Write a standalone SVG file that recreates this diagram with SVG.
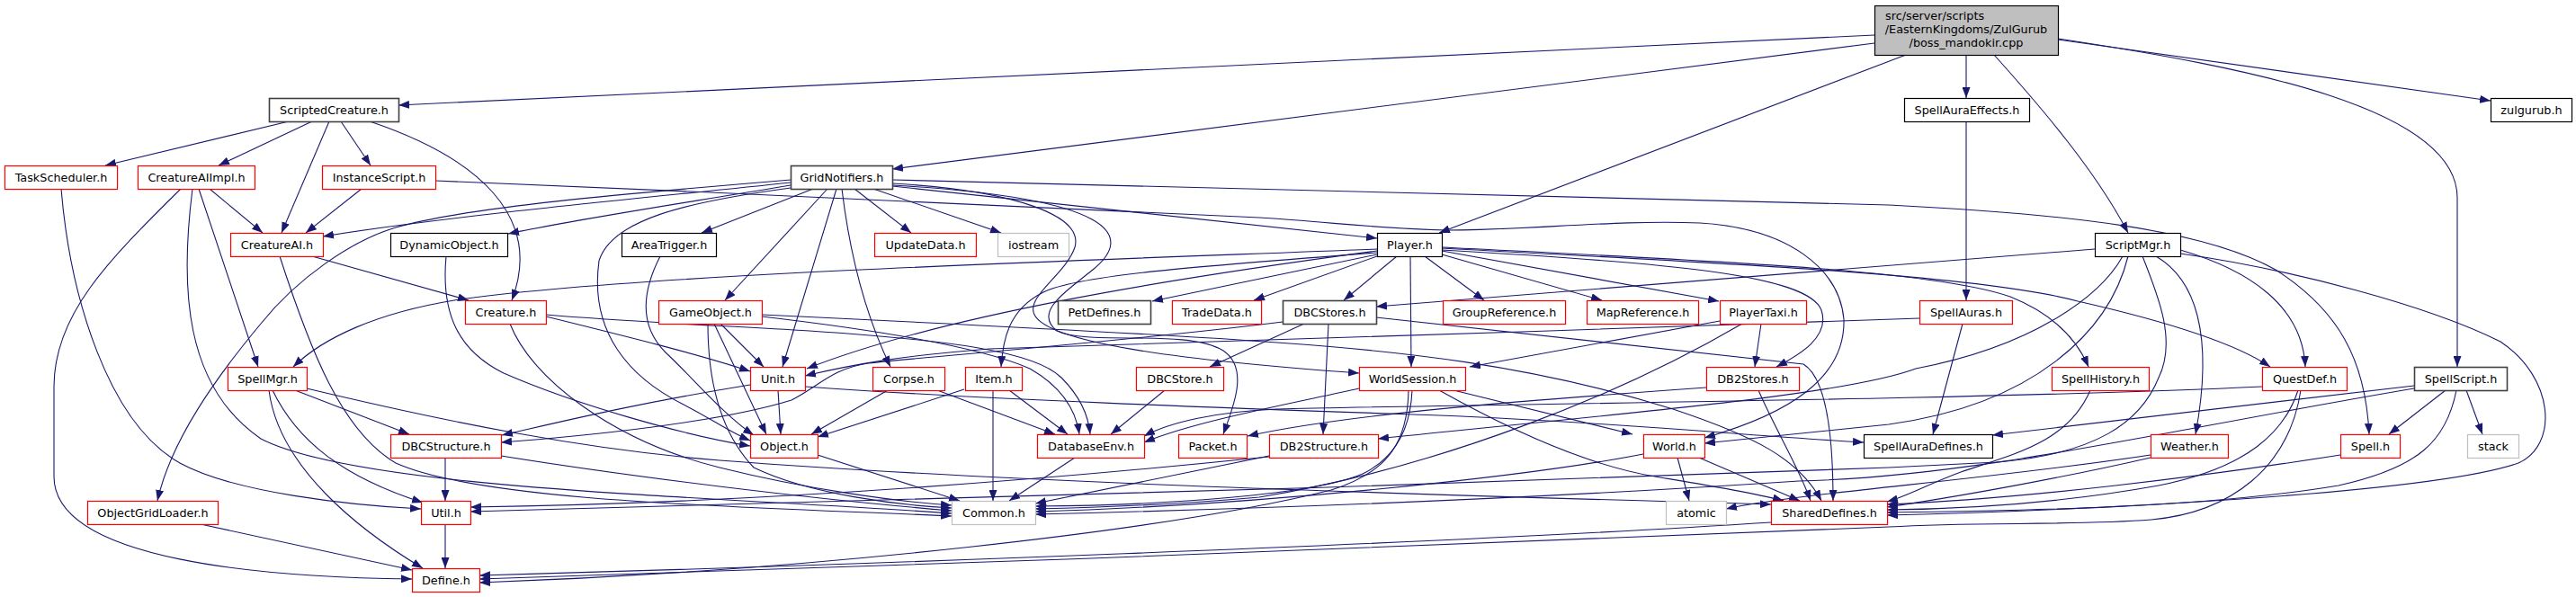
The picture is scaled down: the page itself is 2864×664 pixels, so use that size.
<svg xmlns="http://www.w3.org/2000/svg" width="2864" height="664" viewBox="0 0 2864 664">
<defs>
<marker id="ah" markerUnits="userSpaceOnUse" markerWidth="12" markerHeight="9" refX="12" refY="4.5" orient="auto" viewBox="0 0 12 9"><path d="M0,0L12,4.5L0,9z" fill="#191970"/></marker>
<style>
.e path{fill:none;stroke:#191970;stroke-width:1.1;marker-end:url(#ah)}
rect{fill:#fff;stroke-width:1.2}
.r{stroke:#ff0000}
.k{stroke:#000}
.d{stroke:#404040;stroke-width:1.6}
.g{stroke:#bfbfbf}
.t{fill:#bfbfbf;stroke:#000}
text{font-family:"DejaVu Sans","Liberation Sans",sans-serif;font-size:12.8px;text-anchor:middle;fill:#000}
</style>
</defs>
<rect x="0" y="0" width="2864" height="664" style="fill:#fff;stroke:none"/>
<g id="edges" class="e">
<path d="M2084,39 L443,117"/>
<path d="M2084,48 L992,188"/>
<path d="M2119,61 L1600,259"/>
<path d="M2186,61 L2186,109"/>
<path d="M2217,61 C2270,120 2330,190 2366,259"/>
<path d="M2288,44 L2769,112"/>
<path d="M2288,43 C2500,75 2732,120 2732,220 L2732,408"/>
<path d="M321,135 L117,184"/>
<path d="M347,135 L243,184"/>
<path d="M366,135 L313,259"/>
<path d="M379,135 L412,184"/>
<path d="M411,135 C530,175 605,240 569,334"/>
<path d="M68,210 C78,330 120,470 200,515 C260,548 390,562 468,566"/>
<path d="M233,210 L292,259"/>
<path d="M221,210 L287,408"/>
<path d="M201,210 C120,290 60,350 60,430 L60,530 C60,625 300,642 458,644"/>
<path d="M214,210 C200,320 205,430 290,488 C400,545 800,552 1058,571"/>
<path d="M347,285 L521,334"/>
<path d="M311,285 C345,390 380,480 440,515 C540,560 850,564 1058,574"/>
<path d="M402,210 L340,259"/>
<path d="M484,201 C800,214 1200,232 1400,242 C1480,247 1540,255 1610,256 C1700,256 1800,244 1890,248 C1990,254 2045,300 2050,355 C2052,420 1990,460 1895,487"/>
<path d="M879,203 C700,222 500,240 359,263"/>
<path d="M879,206 C760,226 650,242 565,260"/>
<path d="M879,200 C700,215 520,230 440,253 C390,268 330,310 290,360 C240,420 190,490 175,557"/>
<path d="M904,210 L780,259"/>
<path d="M920,210 L806,334"/>
<path d="M930,210 L870,408"/>
<path d="M936,210 C945,285 962,350 990,408"/>
<path d="M950,210 L1013,259"/>
<path d="M971,210 L1113,259"/>
<path d="M992,207 L1531,265"/>
<path d="M992,200 L2100,228 C2300,238 2450,255 2530,300 C2600,345 2630,400 2634,483"/>
<path d="M879,209 C760,225 680,245 666,290 C655,370 700,420 760,450 C790,465 810,480 834,490"/>
<path d="M496,285 C490,350 510,390 560,415 C640,450 760,484 834,496"/>
<path d="M734,285 C716,320 708,360 740,392 C770,420 805,462 838,484"/>
<path d="M992,204 C1130,212 1205,240 1195,275 C1185,305 1140,330 1150,350 C1165,380 1300,400 1511,415"/>
<path d="M992,206 C1240,220 1262,262 1215,300 C1180,328 1150,348 1175,368 C1210,385 1320,365 1360,390 C1390,410 1370,455 1360,483"/>
<path d="M1553,285 L1494,334"/>
<path d="M1568,285 L1569,408"/>
<path d="M1584,285 L1650,334"/>
<path d="M1603,283 L1781,334"/>
<path d="M1603,279 L1911,335"/>
<path d="M1603,278 C1850,292 2010,305 2025,345 C2035,375 2000,395 1975,408"/>
<path d="M1603,275 C1900,290 2150,300 2235,330 C2285,350 2310,380 2322,408"/>
<path d="M1603,276 C1900,292 2200,305 2310,335 C2420,360 2490,385 2524,408"/>
<path d="M1531,277 C1200,290 700,305 505,334 C420,348 360,375 326,408"/>
<path d="M1531,279 C1300,310 1050,350 897,410"/>
<path d="M1531,281 C1350,295 1200,305 1160,325 C1120,345 1115,380 1113,408"/>
<path d="M1531,283 C1450,300 1350,320 1281,335"/>
<path d="M1531,285 L1394,334"/>
<path d="M2329,277 L1530,341"/>
<path d="M2360,285 C2335,330 2260,385 2130,410 C2050,440 1800,460 1532,488"/>
<path d="M2366,285 C2345,370 2260,450 2100,472 L1895,493"/>
<path d="M2397,285 C2440,310 2462,370 2441,483"/>
<path d="M2424,278 C2500,300 2560,340 2563,408"/>
<path d="M2424,282 C2550,300 2700,340 2780,380 C2840,420 2845,495 2800,515 C2700,550 2300,568 2098,573"/>
<path d="M2382,285 C2400,330 2420,380 2400,420 C2380,470 2330,505 2220,514 L2100,520 C1600,540 900,560 523,569"/>
<path d="M2684,429 L2215,484"/>
<path d="M2719,434 L2656,483"/>
<path d="M2742,434 L2760,483"/>
<path d="M2731,434 C2720,490 2690,520 2600,540 C2450,565 2250,568 2098,570"/>
<path d="M2684,432 C2400,480 2200,530 2000,535 C1700,555 1400,566 1151,572"/>
<path d="M607,352 C700,375 780,395 834,413"/>
<path d="M607,350 C700,358 800,362 900,368 C1050,378 1150,390 1180,420 C1200,440 1210,460 1212,483"/>
<path d="M567,360 C590,420 680,490 800,520 C900,545 1000,558 1058,562"/>
<path d="M787,360 C787,420 800,480 838,520 C900,550 1000,562 1058,565"/>
<path d="M794,360 L852,483"/>
<path d="M801,360 L849,408"/>
<path d="M847,352 C1000,370 1100,390 1145,410 C1180,430 1196,455 1200,483"/>
<path d="M847,350 C1100,362 1300,372 1420,381 C1550,390 1700,405 1860,455 C1950,485 2000,510 2025,557"/>
<path d="M865,434 L868,483"/>
<path d="M834,428 C700,450 620,470 558,484"/>
<path d="M895,430 C1100,445 1400,455 1600,462 C1800,470 1950,485 2072,492"/>
<path d="M987,434 L902,483"/>
<path d="M1042,434 L1173,483"/>
<path d="M1072,433 L909,486"/>
<path d="M1122,434 L1187,483"/>
<path d="M1104,434 L1104,557"/>
<path d="M1295,434 L1235,483"/>
<path d="M1450,360 L1345,408"/>
<path d="M1477,360 L1471,483"/>
<path d="M1530,353 L2005,405 C2030,420 2038,480 2038,557"/>
<path d="M1426,358 C1250,380 1050,395 965,404 C925,410 910,430 880,445 C800,470 650,485 557,492"/>
<path d="M2134,354 C1800,366 1400,378 1100,388 C1000,396 950,405 895,418"/>
<path d="M2182,360 L2149,483"/>
<path d="M2186,135 L2186,334"/>
<path d="M1958,360 L1951,408"/>
<path d="M1912,357 L1634,408"/>
<path d="M1937,360 C1800,440 1600,520 1400,553 C1300,562 1200,565 1151,566"/>
<path d="M1955,434 C1975,480 2000,520 2013,557"/>
<path d="M1897,431 C1700,445 1500,460 1387,485"/>
<path d="M1616,434 L1815,483"/>
<path d="M1600,434 C1700,490 1780,520 1840,530 C1900,540 1950,548 1983,557"/>
<path d="M1570,434 C1568,480 1550,510 1515,527 C1460,550 1300,562 1151,563"/>
<path d="M1566,434 C1565,490 1545,525 1480,545 C1300,590 900,635 533,648"/>
<path d="M1411,507 C1300,530 1200,550 1151,560"/>
<path d="M1411,508 C1100,540 800,560 523,564"/>
<path d="M1865,509 L1878,557"/>
<path d="M1889,509 L2001,557"/>
<path d="M1827,505 C1700,530 1400,562 1151,569"/>
<path d="M2391,506 C2200,535 2000,548 1919,566"/>
<path d="M2391,509 C2300,530 2180,552 2098,564"/>
<path d="M2602,506 C2450,530 2250,555 2098,561"/>
<path d="M2324,434 C2300,490 2246,503 2180,525 C2140,540 2120,552 2098,558"/>
<path d="M2555,434 C2540,480 2500,520 2400,540 C2300,558 2200,566 2098,567"/>
<path d="M2558,434 C2545,520 2480,570 2392,578 C2300,585 2200,580 2100,586 C1800,600 1000,630 533,644"/>
<path d="M2515,430 C2200,445 1600,450 1420,455 C1350,458 1300,470 1272,485"/>
<path d="M1511,432 C1440,448 1330,468 1272,492"/>
<path d="M1969,581 C1600,605 900,630 533,640"/>
<path d="M909,506 L1067,557"/>
<path d="M1195,509 L1122,557"/>
<path d="M495,509 L495,557"/>
<path d="M557,507 C700,530 900,555 1058,568"/>
<path d="M495,583 L495,632"/>
<path d="M223,583 L458,634"/>
<path d="M328,434 L455,483"/>
<path d="M341,432 C500,470 650,500 800,512 C1100,535 1500,548 1969,561"/>
<path d="M303,434 C330,490 380,530 470,559"/>
<path d="M299,434 C310,520 400,590 470,632"/>
</g>
<g id="n-boss_mandokir"><rect class="t" x="2084.5" y="6.5" width="204" height="55"/><text x="2096" y="22" style="text-anchor:start">src/server/scripts</text><text x="2186" y="37">/EasternKingdoms/ZulGurub</text><text x="2186" y="51.5">/boss_mandokir.cpp</text></g>
<g id="n-ScriptedCreature"><rect class="d" x="299.5" y="109.5" width="144" height="26"/><text x="371.5" y="127">ScriptedCreature.h</text></g>
<g id="n-SpellAuraEffects"><rect class="k" x="2117.5" y="109.5" width="139" height="26"/><text x="2187" y="127">SpellAuraEffects.h</text></g>
<g id="n-zulgurub"><rect class="k" x="2769.5" y="109.5" width="90" height="26"/><text x="2814.5" y="127">zulgurub.h</text></g>
<g id="n-TaskScheduler"><rect class="r" x="5.5" y="184.5" width="125" height="26"/><text x="68" y="202">TaskScheduler.h</text></g>
<g id="n-CreatureAIImpl"><rect class="r" x="153.5" y="184.5" width="130" height="26"/><text x="218.5" y="202">CreatureAIImpl.h</text></g>
<g id="n-InstanceScript"><rect class="r" x="358.5" y="184.5" width="126" height="26"/><text x="421.5" y="202">InstanceScript.h</text></g>
<g id="n-GridNotifiers"><rect class="d" x="879.5" y="184.5" width="113" height="26"/><text x="936" y="202">GridNotifiers.h</text></g>
<g id="n-CreatureAI"><rect class="r" x="256.5" y="259.5" width="103" height="26"/><text x="308" y="277">CreatureAI.h</text></g>
<g id="n-DynamicObject"><rect class="k" x="434.5" y="259.5" width="130" height="26"/><text x="499.5" y="277">DynamicObject.h</text></g>
<g id="n-AreaTrigger"><rect class="k" x="691.5" y="259.5" width="105" height="26"/><text x="744" y="277">AreaTrigger.h</text></g>
<g id="n-UpdateData"><rect class="r" x="972.5" y="259.5" width="113" height="26"/><text x="1029" y="277">UpdateData.h</text></g>
<g id="n-iostream"><rect class="g" x="1109.5" y="259.5" width="79" height="26"/><text x="1149" y="277">iostream</text></g>
<g id="n-Player"><rect class="k" x="1531.5" y="259.5" width="72" height="26"/><text x="1567.5" y="277">Player.h</text></g>
<g id="n-ScriptMgr"><rect class="k" x="2329.5" y="259.5" width="95" height="26"/><text x="2377" y="277">ScriptMgr.h</text></g>
<g id="n-Creature"><rect class="r" x="517.5" y="334.5" width="90" height="26"/><text x="562.5" y="352">Creature.h</text></g>
<g id="n-GameObject"><rect class="r" x="732.5" y="334.5" width="115" height="26"/><text x="790" y="352">GameObject.h</text></g>
<g id="n-PetDefines"><rect class="d" x="1176.5" y="334.5" width="103" height="26"/><text x="1228" y="352">PetDefines.h</text></g>
<g id="n-TradeData"><rect class="r" x="1303.5" y="334.5" width="99" height="26"/><text x="1353" y="352">TradeData.h</text></g>
<g id="n-DBCStores"><rect class="d" x="1426.5" y="334.5" width="104" height="26"/><text x="1478.5" y="352">DBCStores.h</text></g>
<g id="n-GroupReference"><rect class="r" x="1604.5" y="334.5" width="136" height="26"/><text x="1672.5" y="352">GroupReference.h</text></g>
<g id="n-MapReference"><rect class="r" x="1764.5" y="334.5" width="124" height="26"/><text x="1826.5" y="352">MapReference.h</text></g>
<g id="n-PlayerTaxi"><rect class="r" x="1912.5" y="334.5" width="96" height="26"/><text x="1960.5" y="352">PlayerTaxi.h</text></g>
<g id="n-SpellAuras"><rect class="r" x="2134.5" y="334.5" width="103" height="26"/><text x="2186" y="352">SpellAuras.h</text></g>
<g id="n-SpellMgr"><rect class="r" x="253.5" y="408.5" width="88" height="26"/><text x="297.5" y="426">SpellMgr.h</text></g>
<g id="n-Unit"><rect class="r" x="834.5" y="408.5" width="61" height="26"/><text x="865" y="426">Unit.h</text></g>
<g id="n-Corpse"><rect class="r" x="970.5" y="408.5" width="80" height="26"/><text x="1010.5" y="426">Corpse.h</text></g>
<g id="n-Item"><rect class="r" x="1073.5" y="408.5" width="63" height="26"/><text x="1105" y="426">Item.h</text></g>
<g id="n-DBCStore"><rect class="r" x="1263.5" y="408.5" width="97" height="26"/><text x="1312" y="426">DBCStore.h</text></g>
<g id="n-WorldSession"><rect class="r" x="1511.5" y="408.5" width="118" height="26"/><text x="1570.5" y="426">WorldSession.h</text></g>
<g id="n-DB2Stores"><rect class="r" x="1897.5" y="408.5" width="103" height="26"/><text x="1949" y="426">DB2Stores.h</text></g>
<g id="n-SpellHistory"><rect class="r" x="2281.5" y="408.5" width="108" height="26"/><text x="2335.5" y="426">SpellHistory.h</text></g>
<g id="n-QuestDef"><rect class="r" x="2515.5" y="408.5" width="94" height="26"/><text x="2562.5" y="426">QuestDef.h</text></g>
<g id="n-SpellScript"><rect class="d" x="2684.5" y="408.5" width="103" height="26"/><text x="2736" y="426">SpellScript.h</text></g>
<g id="n-DBCStructure"><rect class="r" x="434.5" y="483.5" width="123" height="26"/><text x="496" y="501">DBCStructure.h</text></g>
<g id="n-Object"><rect class="r" x="834.5" y="483.5" width="75" height="26"/><text x="872" y="501">Object.h</text></g>
<g id="n-DatabaseEnv"><rect class="r" x="1153.5" y="483.5" width="119" height="26"/><text x="1213" y="501">DatabaseEnv.h</text></g>
<g id="n-Packet"><rect class="r" x="1310.5" y="483.5" width="76" height="26"/><text x="1348.5" y="501">Packet.h</text></g>
<g id="n-DB2Structure"><rect class="r" x="1411.5" y="483.5" width="121" height="26"/><text x="1472" y="501">DB2Structure.h</text></g>
<g id="n-World"><rect class="r" x="1827.5" y="483.5" width="68" height="26"/><text x="1861.5" y="501">World.h</text></g>
<g id="n-SpellAuraDefines"><rect class="k" x="2072.5" y="483.5" width="143" height="26"/><text x="2144" y="501">SpellAuraDefines.h</text></g>
<g id="n-Weather"><rect class="r" x="2391.5" y="483.5" width="86" height="26"/><text x="2434.5" y="501">Weather.h</text></g>
<g id="n-Spell"><rect class="r" x="2602.5" y="483.5" width="66" height="26"/><text x="2635.5" y="501">Spell.h</text></g>
<g id="n-stack"><rect class="g" x="2743.5" y="483.5" width="57" height="26"/><text x="2772" y="501">stack</text></g>
<g id="n-ObjectGridLoader"><rect class="r" x="97.5" y="557.5" width="145" height="26"/><text x="170" y="575">ObjectGridLoader.h</text></g>
<g id="n-Util"><rect class="r" x="468.5" y="557.5" width="55" height="26"/><text x="496" y="575">Util.h</text></g>
<g id="n-Common"><rect class="g" x="1058.5" y="557.5" width="93" height="26"/><text x="1105" y="575">Common.h</text></g>
<g id="n-atomic"><rect class="g" x="1852.5" y="557.5" width="67" height="26"/><text x="1886" y="575">atomic</text></g>
<g id="n-SharedDefines"><rect class="r" x="1969.5" y="557.5" width="129" height="26"/><text x="2034" y="575">SharedDefines.h</text></g>
<g id="n-Define"><rect class="r" x="458.5" y="632.5" width="75" height="26"/><text x="496" y="650">Define.h</text></g>
</svg>
